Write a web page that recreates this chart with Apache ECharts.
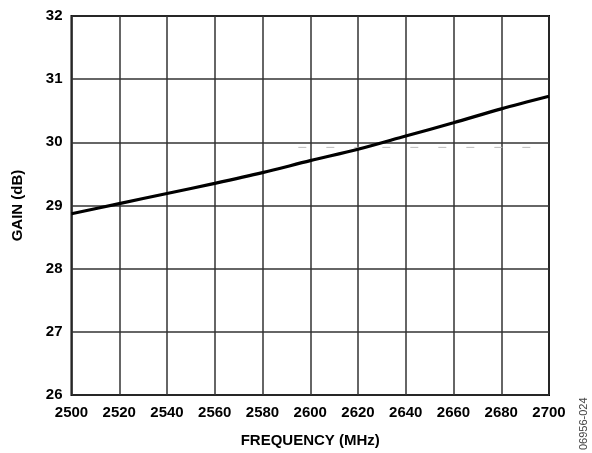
<!DOCTYPE html>
<html><head><meta charset="utf-8">
<script src="https://cdn.jsdelivr.net/npm/echarts@6/dist/echarts.min.js"></script>
<style>html,body{margin:0;padding:0;background:#fff}#c{width:592px;height:453px}</style>
</head><body><div id="c"></div>
<script>
const freq = [2500, 2520, 2540, 2560, 2580, 2600, 2620, 2640, 2660, 2680, 2700];
const gain = [28.87, 29.03, 29.19, 29.35, 29.52, 29.71, 29.89, 30.10, 30.31, 30.53, 30.73];
const artifactX = [2595, 2700];
const artifactY = 29.92;
const xTicks = [2500, 2520, 2540, 2560, 2580, 2600, 2620, 2640, 2660, 2680, 2700];
const yTicks = [26, 27, 28, 29, 30, 31, 32];

const chart = echarts.init(document.getElementById('c'));
const font = 'Liberation Sans, Arial, sans-serif';
chart.setOption({
  animation: false,
  grid: {left: 71.5, right: 43, top: 16, bottom: 56, show: true, borderColor: '#000', borderWidth: 2},
  xAxis: {
    type: 'value', min: xTicks[0], max: xTicks[xTicks.length-1], interval: 20,
    name: 'FREQUENCY (MHz)', nameLocation: 'middle', nameGap: 38,
    nameTextStyle: {fontFamily: font, fontWeight: 'bold', fontSize: 15, color: '#000'},
    axisLine: {show: false}, axisTick: {show: false},
    axisLabel: {fontFamily: font, fontWeight: 'bold', fontSize: 15, color: '#000', margin: 10,
      formatter: v => String(v)},
    splitLine: {show: true, lineStyle: {color: '#333', width: 1.5}}
  },
  yAxis: {
    type: 'value', min: yTicks[0], max: yTicks[yTicks.length-1], interval: 1,
    name: 'GAIN (dB)', nameLocation: 'middle', nameGap: 46, nameRotate: 90,
    nameTextStyle: {fontFamily: font, fontWeight: 'bold', fontSize: 15, color: '#000'},
    axisLine: {show: false}, axisTick: {show: false},
    axisLabel: {fontFamily: font, fontWeight: 'bold', fontSize: 15, color: '#000', margin: 9},
    splitLine: {show: true, lineStyle: {color: '#333', width: 1.5}}
  },
  series: [
    {type: 'line', data: artifactX.map(x => [x, artifactY]), symbol: 'none', silent: true,
     lineStyle: {color: '#bbb', width: 1, type: [8, 20]}, z: 1},
    {type: 'line', data: freq.map((f, i) => [f, gain[i]]), symbol: 'none', smooth: 0.3,
     lineStyle: {color: '#000', width: 3.2}, z: 3}
  ],
  graphic: [{
    type: 'text', x: 584, y: 450, rotation: Math.PI/2,
    style: {text: '06956-024', fontFamily: font, fontSize: 11, fill: '#444',
      textAlign: 'left', textVerticalAlign: 'middle'}
  }]
});
</script></body></html>
